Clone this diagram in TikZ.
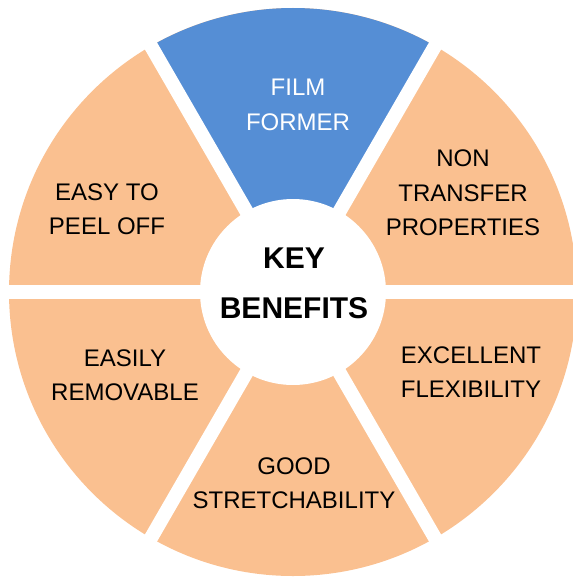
\documentclass[tikz,border=0pt]{standalone}
\usepackage{fontspec}
\setmainfont{Liberation Sans}
\usepackage{tikz}
\usetikzlibrary{positioning}
\definecolor{peach}{HTML}{FAC090}
\definecolor{filmblue}{HTML}{558ED5}

\begin{document}
\begin{tikzpicture}[x=1pt, y=-1pt,
    gap/.style={draw=white, line width=14pt},
    benefit/.style={align=center, font=\fontsize{24}{34.5}\selectfont}]
\useasboundingbox (0,0) rectangle (572,577);
\coordinate (c) at (293,292);

% wheel
\fill[peach] (c) circle[radius=284];
\fill[filmblue] (c) -- ++(240:284) arc[start angle=240, end angle=300, radius=284] -- cycle;
\foreach \a in {0,60,120}
    \draw[gap] (c) ++(\a:300) -- ++(\a+180:600);
\fill[white] (c) circle[radius=93];

% Benefits
\node[benefit, text=white] (film) at (298,105) {FILM\\FORMER};
\node[benefit] (nontransfer) at (463,193) {NON\\TRANSFER\\PROPERTIES};
\node[benefit] (peel) at (107,209) {EASY TO\\PEEL OFF};
\node[benefit] (flex) at (471,372) {EXCELLENT\\FLEXIBILITY};
\node[benefit] (removable) at (125,375) {EASILY\\REMOVABLE};
\node[benefit] (stretch) at (294,483) {GOOD\\STRETCHABILITY};
\node[benefit, font=\bfseries\fontsize{30}{50}\selectfont] (key) at (294,283) {KEY\\BENEFITS};
\end{tikzpicture}
\end{document}
